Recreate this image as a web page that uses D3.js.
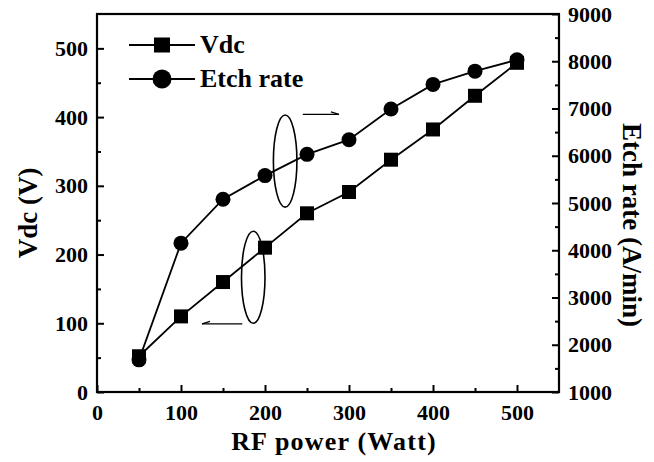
<!DOCTYPE html>
<head>
    <meta charset="utf-8">
    <style>
        body {
            margin: 0;
            padding: 0;
            background: #fff;
        }
        svg text {
            font-family: "Liberation Serif", "DejaVu Serif", serif;
            font-weight: bold;
            fill: #000;
        }
    </style>
    <script src="https://d3js.org/d3.v7.min.js"></script>
</head>
<body>
    <svg width="654" height="462"></svg>
    <script>
        // data
        var power = [50, 100, 150, 200, 250, 300, 350, 400, 450, 500];
        var vdc = [52, 110, 160, 210, 260, 291, 338, 382, 431, 479];
        var etchRate = [1680, 4150, 5080, 5580, 6030, 6340, 6990, 7510, 7790, 8030];
        var xTicks = [0, 100, 200, 300, 400, 500];
        var vdcTicks = [0, 100, 200, 300, 400, 500];
        var etchTicks = [1000, 2000, 3000, 4000, 5000, 6000, 7000, 8000, 9000];

        // annotation ellipses / arrows in data units (x: Watt, y: Vdc)
        var ellipses = [
            {x: 224, y: 336, rx: 14, ry: 67},
            {x: 186, y: 167, rx: 14, ry: 67}
        ];
        var arrows = [
            {x1: 245, x2: 288, y: 404},
            {x1: 173, x2: 125, y: 99}
        ];

        var svg = d3.select("svg");
        var margin = {left: 97, right: 95, top: 14, bottom: 70};
        var width = 654 - margin.left - margin.right,
            height = 462 - margin.top - margin.bottom;

        var g = svg.append("g")
            .attr("transform", "translate(" + margin.left + "," + margin.top + ")");

        var x = d3.scaleLinear().domain([0, 550]).range([0, width]);
        var yL = d3.scaleLinear().domain([0, 550]).range([height, 0]);
        var yR = d3.scaleLinear().domain([1000, 9000]).range([height, 0]);

        // frame
        g.append("rect")
            .attr("width", width)
            .attr("height", height)
            .attr("fill", "none")
            .attr("stroke", "#000")
            .attr("stroke-width", 2.2);

        // minor ticks (inward)
        var minorX = d3.range(50, 550, 100);
        var minorL = d3.range(50, 550, 100);
        var minorR = d3.range(1500, 9000, 1000);

        function styleAxis(axis) {
            axis.select(".domain").remove();
            axis.selectAll(".tick line").attr("stroke", "#000").attr("stroke-width", 2);
            axis.selectAll(".tick text").style("font-size", "22px");
        }

        g.append("g")
            .attr("transform", "translate(0," + height + ")")
            .call(d3.axisBottom(x).tickValues(xTicks).tickSizeInner(-7).tickPadding(12))
            .call(styleAxis);
        g.append("g")
            .attr("transform", "translate(0," + height + ")")
            .call(d3.axisBottom(x).tickValues(minorX).tickSize(-4).tickFormat(""))
            .call(styleAxis);

        g.append("g")
            .call(d3.axisLeft(yL).tickValues(vdcTicks).tickSizeInner(-7).tickPadding(9))
            .call(styleAxis);
        g.append("g")
            .call(d3.axisLeft(yL).tickValues(minorL).tickSize(-4).tickFormat(""))
            .call(styleAxis);

        g.append("g")
            .attr("transform", "translate(" + width + ",0)")
            .call(d3.axisRight(yR).tickValues(etchTicks).tickSizeInner(-7).tickPadding(9)
                .tickFormat(d3.format("d")))
            .call(styleAxis);
        g.append("g")
            .attr("transform", "translate(" + width + ",0)")
            .call(d3.axisRight(yR).tickValues(minorR).tickSize(-4).tickFormat(""))
            .call(styleAxis);

        // series
        var vdcLine = d3.line()
            .x(function (d, i) { return x(power[i]); })
            .y(function (d) { return yL(d); });
        var etchLine = d3.line()
            .x(function (d, i) { return x(power[i]); })
            .y(function (d) { return yR(d); });

        g.append("path").datum(vdc)
            .attr("d", vdcLine)
            .attr("fill", "none").attr("stroke", "#000").attr("stroke-width", 1.8);
        g.append("path").datum(etchRate)
            .attr("d", etchLine)
            .attr("fill", "none").attr("stroke", "#000").attr("stroke-width", 1.8);

        var sq = 14;
        g.selectAll(".sq").data(vdc).enter().append("rect")
            .attr("class", "sq")
            .attr("x", function (d, i) { return x(power[i]) - sq / 2; })
            .attr("y", function (d) { return yL(d) - sq / 2; })
            .attr("width", sq).attr("height", sq)
            .attr("fill", "#000");
        g.selectAll(".dot").data(etchRate).enter().append("circle")
            .attr("class", "dot")
            .attr("cx", function (d, i) { return x(power[i]); })
            .attr("cy", function (d) { return yR(d); })
            .attr("r", 7.5)
            .attr("fill", "#000");

        // ellipses and arrows
        g.selectAll(".ell").data(ellipses).enter().append("ellipse")
            .attr("cx", function (d) { return x(d.x); })
            .attr("cy", function (d) { return yL(d.y); })
            .attr("rx", function (d) { return x(d.rx) - x(0); })
            .attr("ry", function (d) { return yL(0) - yL(d.ry); })
            .attr("fill", "none").attr("stroke", "#000").attr("stroke-width", 1.6);

        arrows.forEach(function (a) {
            var x1 = x(a.x1), x2 = x(a.x2), yy = yL(a.y);
            var dir = x2 > x1 ? 1 : -1;
            g.append("line")
                .attr("x1", x1).attr("x2", x2).attr("y1", yy).attr("y2", yy)
                .attr("stroke", "#000").attr("stroke-width", 1.3);
            g.append("path")
                .attr("d", "M" + x2 + "," + yy + "L" + (x2 - dir * 8) + "," + (yy - 2.5))
                .attr("stroke", "#000").attr("stroke-width", 1.3).attr("fill", "none");
        });

        // legend
        var legend = g.append("g").attr("transform", "translate(32,31)");
        var items = [{name: "Vdc", shape: "square"}, {name: "Etch rate", shape: "circle"}];
        items.forEach(function (it, i) {
            var row = legend.append("g").attr("transform", "translate(0," + (i * 34) + ")");
            row.append("line").attr("x1", 0).attr("x2", 66)
                .attr("stroke", "#000").attr("stroke-width", 1.8);
            if (it.shape === "square") {
                row.append("rect").attr("x", 33 - 8).attr("y", -7.5)
                    .attr("width", 16).attr("height", 15).attr("fill", "#000");
            } else {
                row.append("circle").attr("cx", 33).attr("r", 9.5).attr("fill", "#000");
            }
            row.append("text").attr("x", 71).attr("y", 8)
                .style("font-size", "26px").text(it.name);
        });

        // axis titles
        svg.append("text")
            .attr("x", margin.left + width / 2 + 6).attr("y", 450)
            .attr("text-anchor", "middle")
            .style("font-size", "26px")
            .style("letter-spacing", "1.2px")
            .text("RF power (Watt)");
        svg.append("text")
            .attr("transform", "translate(37,213) rotate(-90)")
            .attr("text-anchor", "middle")
            .style("font-size", "27px")
            .text("Vdc (V)");
        svg.append("text")
            .attr("transform", "translate(623,225) rotate(90)")
            .attr("text-anchor", "middle")
            .style("font-size", "27px")
            .text("Etch rate (A/min)");
    </script>
</body>
</html>
